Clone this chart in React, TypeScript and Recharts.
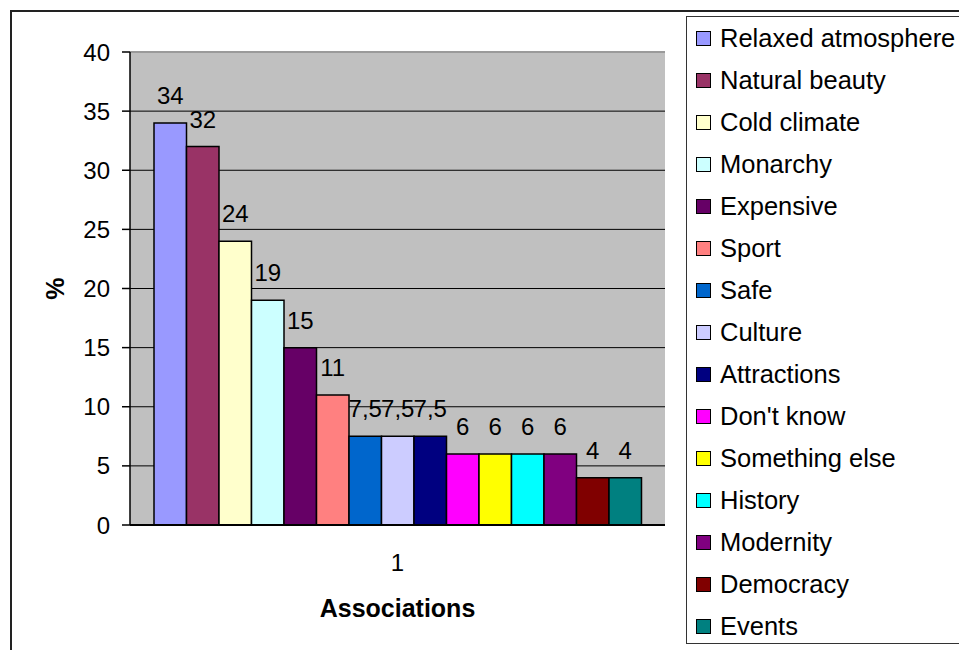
import { BarChart, Bar, XAxis, YAxis, CartesianGrid, LabelList, ReferenceLine } from "recharts";

const categories = ["1"];

const seriesNames = [
  "Relaxed atmosphere",
  "Natural beauty",
  "Cold climate",
  "Monarchy",
  "Expensive",
  "Sport",
  "Safe",
  "Culture",
  "Attractions",
  "Don't know",
  "Something else",
  "History",
  "Modernity",
  "Democracy",
  "Events",
];

const seriesValues = [34, 32, 24, 19, 15, 11, 7.5, 7.5, 7.5, 6, 6, 6, 6, 4, 4];

const seriesColors = [
  "#9999FF",
  "#993366",
  "#FFFFCC",
  "#CCFFFF",
  "#660066",
  "#FF8080",
  "#0066CC",
  "#CCCCFF",
  "#000080",
  "#FF00FF",
  "#FFFF00",
  "#00FFFF",
  "#800080",
  "#800000",
  "#008080",
];

const yTicks = [0, 5, 10, 15, 20, 25, 30, 35, 40];

const FONT = "'Liberation Sans', Arial, sans-serif";

const data = categories.map((name) => {
  const row: Record<string, string | number> = { name };
  seriesNames.forEach((s, i) => {
    row[s] = seriesValues[i];
  });
  return row;
});

const fmt = (v: any) => String(v).replace(".", ",");

export default function App() {
  return (
    <div
      style={{
        position: "absolute",
        left: 0,
        top: 0,
        width: 959,
        height: 650,
        background: "#fff",
        overflow: "hidden",
        fontFamily: FONT,
      }}
    >
      {/* outer chart frame */}
      <div
        style={{
          position: "absolute",
          left: 10,
          top: 10,
          width: 1000,
          height: 700,
          border: "2px solid #222",
        }}
      />
      <div style={{ position: "absolute", left: 0, top: 0 }}>
        <BarChart
          width={959}
          height={650}
          data={data}
          margin={{ top: 52, right: 294, left: 20, bottom: 0 }}
          barSize={32.5}
          barGap={0}
          style={{ fontFamily: FONT }}
        >
          <CartesianGrid
            vertical={false}
            stroke="#000"
            strokeWidth={1}
            fill="#C0C0C0"
            fillOpacity={1}
          />
          <XAxis
            xAxisId="edge"
            type="number"
            domain={[0, 1]}
            ticks={[0, 1]}
            allowDataOverflow
            height={0}
            axisLine={false}
            tick={false}
            tickSize={8}
            tickLine={{ stroke: "#000", strokeWidth: 1.5 }}
          />
          <XAxis
            dataKey="name"
            height={125}
            tickSize={0}
            tickMargin={29}
            axisLine={{ stroke: "#000", strokeWidth: 2 }}
            tickLine={false}
            tick={{ fill: "#000", fontSize: 24, fontFamily: FONT }}
            label={(p: any) => {
              const vb = p.viewBox;
              return (
                <text
                  x={vb.x + vb.width / 2}
                  y={vb.y + 83}
                  textAnchor="middle"
                  dominantBaseline="central"
                  fontSize={25}
                  fontWeight="bold"
                  fontFamily={FONT}
                  fill="#000"
                >
                  Associations
                </text>
              );
            }}
          />
          <YAxis
            domain={[0, 40]}
            ticks={yTicks}
            width={110}
            tickSize={8}
            tickMargin={12}
            axisLine={{ stroke: "#000", strokeWidth: 1.5 }}
            tickLine={{ stroke: "#000", strokeWidth: 1.5 }}
            tick={{ fill: "#000", fontSize: 24, fontFamily: FONT }}
            label={(p: any) => {
              const vb = p.viewBox;
              const cx = vb.x + 35;
              const cy = vb.y + vb.height / 2;
              return (
                <text
                  x={cx}
                  y={cy}
                  textAnchor="middle"
                  dominantBaseline="central"
                  transform={`rotate(-90 ${cx} ${cy})`}
                  fontSize={25}
                  fontWeight="bold"
                  fontFamily={FONT}
                  fill="#000"
                >
                  %
                </text>
              );
            }}
          />
          <YAxis
            yAxisId="r"
            orientation="right"
            domain={[0, 40]}
            width={0}
            tick={false}
            tickLine={false}
            axisLine={{ stroke: "#8a8a8a", strokeWidth: 2 }}
          />
          <ReferenceLine y={40} stroke="#9a9a9a" strokeWidth={2} />
          {seriesNames.map((s, i) => (
            <Bar
              key={s}
              dataKey={s}
              fill={seriesColors[i]}
              stroke="#000"
              strokeWidth={1.5}
              isAnimationActive={false}
            >
              <LabelList
                dataKey={s}
                position="top"
                offset={19}
                formatter={fmt}
                fill="#000"
                fontSize={24}
                fontFamily={FONT}
              />
            </Bar>
          ))}
        </BarChart>
      </div>

      {/* legend */}
      <div
        style={{
          position: "absolute",
          left: 686,
          top: 16,
          width: 300,
          height: 628,
          border: "1.5px solid #333",
          boxSizing: "border-box",
        }}
      >
        {seriesNames.map((s, i) => (
          <div
            key={s}
            style={{
              position: "absolute",
              left: 9,
              top: i * 42,
              height: 42,
              display: "flex",
              alignItems: "center",
              whiteSpace: "nowrap",
            }}
          >
            <span
              style={{
                display: "inline-block",
                width: 13,
                height: 13,
                background: seriesColors[i],
                border: "1.5px solid #000",
                marginRight: 9,
              }}
            />
            <span style={{ fontSize: 25.5, color: "#000", lineHeight: "42px" }}>{s}</span>
          </div>
        ))}
      </div>
    </div>
  );
}
